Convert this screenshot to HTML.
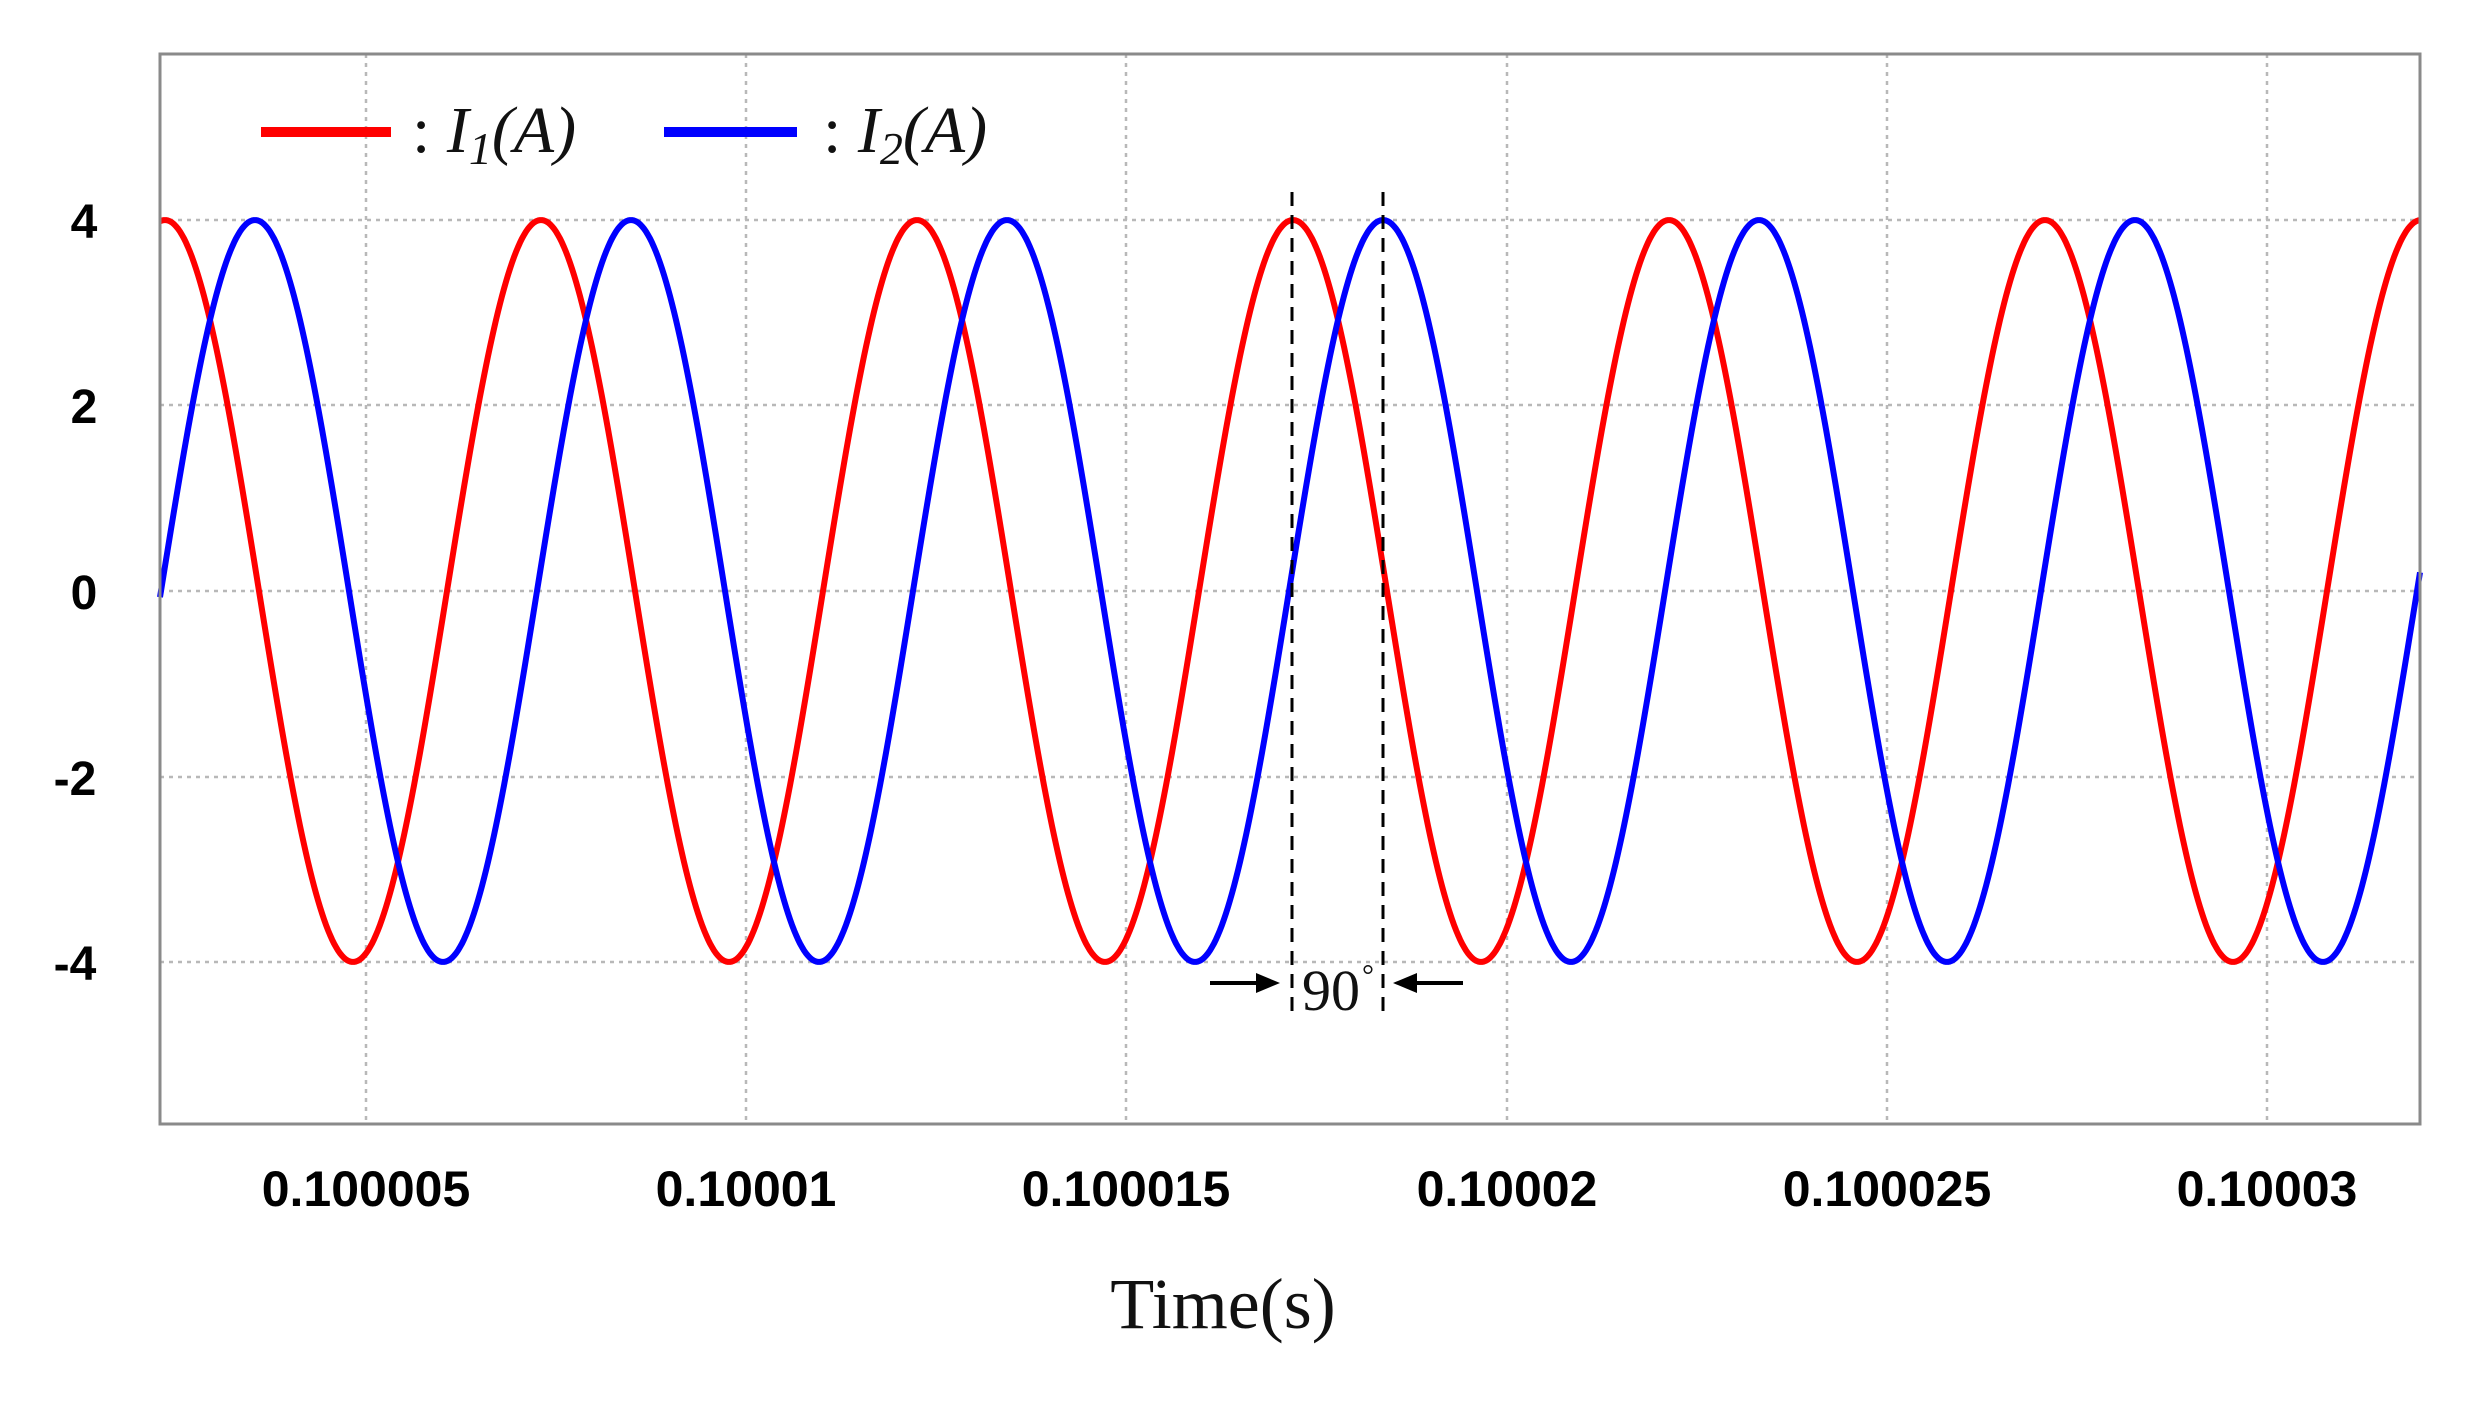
<!DOCTYPE html>
<html><head><meta charset="utf-8"><style>
html,body{margin:0;padding:0;background:#fff;}
svg{display:block;}
</style></head><body>
<svg id="s" width="2479" height="1406" viewBox="0 0 2479 1406" xmlns="http://www.w3.org/2000/svg">
<rect x="0" y="0" width="2479" height="1406" fill="#fff"/>
<g stroke="#b8b8b8" stroke-width="2.5" stroke-dasharray="4,5" fill="none">
<line x1="160" y1="220" x2="2420" y2="220"/>
<line x1="160" y1="405" x2="2420" y2="405"/>
<line x1="160" y1="591" x2="2420" y2="591"/>
<line x1="160" y1="777" x2="2420" y2="777"/>
<line x1="160" y1="962" x2="2420" y2="962"/>
<line x1="366" y1="54" x2="366" y2="1124"/>
<line x1="746" y1="54" x2="746" y2="1124"/>
<line x1="1126" y1="54" x2="1126" y2="1124"/>
<line x1="1507" y1="54" x2="1507" y2="1124"/>
<line x1="1887" y1="54" x2="1887" y2="1124"/>
<line x1="2267" y1="54" x2="2267" y2="1124"/>
</g>
<path id="red" fill="none" stroke="#ff0000" stroke-width="6" stroke-linejoin="round"/>
<path id="blue" fill="none" stroke="#0000ff" stroke-width="6" stroke-linejoin="round"/>
<rect x="160" y="54" width="2260" height="1070" fill="none" stroke="#8a8a8a" stroke-width="3"/>
<g stroke="#000" stroke-width="3" stroke-dasharray="14,9">
<line x1="1292" y1="192" x2="1292" y2="1017"/>
<line x1="1383" y1="192" x2="1383" y2="1017"/>
</g>
<g stroke="#000" stroke-width="4">
<line x1="1210" y1="983" x2="1260" y2="983"/>
<line x1="1413" y1="983" x2="1463" y2="983"/>
</g>
<polygon points="1280,983 1256,973 1256,993" fill="#000"/>
<polygon points="1393,983 1417,973 1417,993" fill="#000"/>
<text x="1302" y="1010" font-family="Liberation Serif, serif" font-size="58" fill="#111">90</text>
<text x="1362" y="985" font-family="Liberation Serif, serif" font-size="30" fill="#111">°</text>
<line x1="261" y1="132" x2="391" y2="132" stroke="#ff0000" stroke-width="10"/>
<line x1="664" y1="132" x2="797" y2="132" stroke="#0000ff" stroke-width="10"/>
<g font-family="Liberation Serif, serif" font-size="66" fill="#111">
<text x="412" y="152">: <tspan font-style="italic">I</tspan><tspan font-style="italic" font-size="46" dy="12">1</tspan><tspan font-style="italic" dy="-12">(A)</tspan></text>
<text x="823" y="152">: <tspan font-style="italic">I</tspan><tspan font-style="italic" font-size="46" dy="12">2</tspan><tspan font-style="italic" dy="-12">(A)</tspan></text>
</g>
<g font-family="Liberation Sans, sans-serif" font-weight="bold" font-size="48" fill="#000" text-anchor="middle">
<text x="84" y="238">4</text>
<text x="84" y="423">2</text>
<text x="84" y="609">0</text>
<text x="75" y="795">-2</text>
<text x="75" y="980">-4</text>
</g>
<g font-family="Liberation Sans, sans-serif" font-weight="bold" font-size="50" fill="#000" text-anchor="middle">
<text x="366" y="1206">0.100005</text>
<text x="746" y="1206">0.10001</text>
<text x="1126" y="1206">0.100015</text>
<text x="1507" y="1206">0.10002</text>
<text x="1887" y="1206">0.100025</text>
<text x="2267" y="1206">0.10003</text>
</g>
<text x="1223" y="1328" font-family="Liberation Serif, serif" font-size="72" fill="#111" text-anchor="middle">Time(s)</text>
</svg>
<script>
(function(){
var P=376, A=371, y0=591;
function mk(peak){
  var d='';
  for(var x=160;x<=2420;x+=2){
    var y=y0-A*Math.cos(2*Math.PI*(x-peak)/P);
    d+=(x==160?'M':'L')+x+','+y.toFixed(1);
  }
  return d;
}
document.getElementById('red').setAttribute('d',mk(165));
document.getElementById('blue').setAttribute('d',mk(255));
})();
</script>
</body></html>
